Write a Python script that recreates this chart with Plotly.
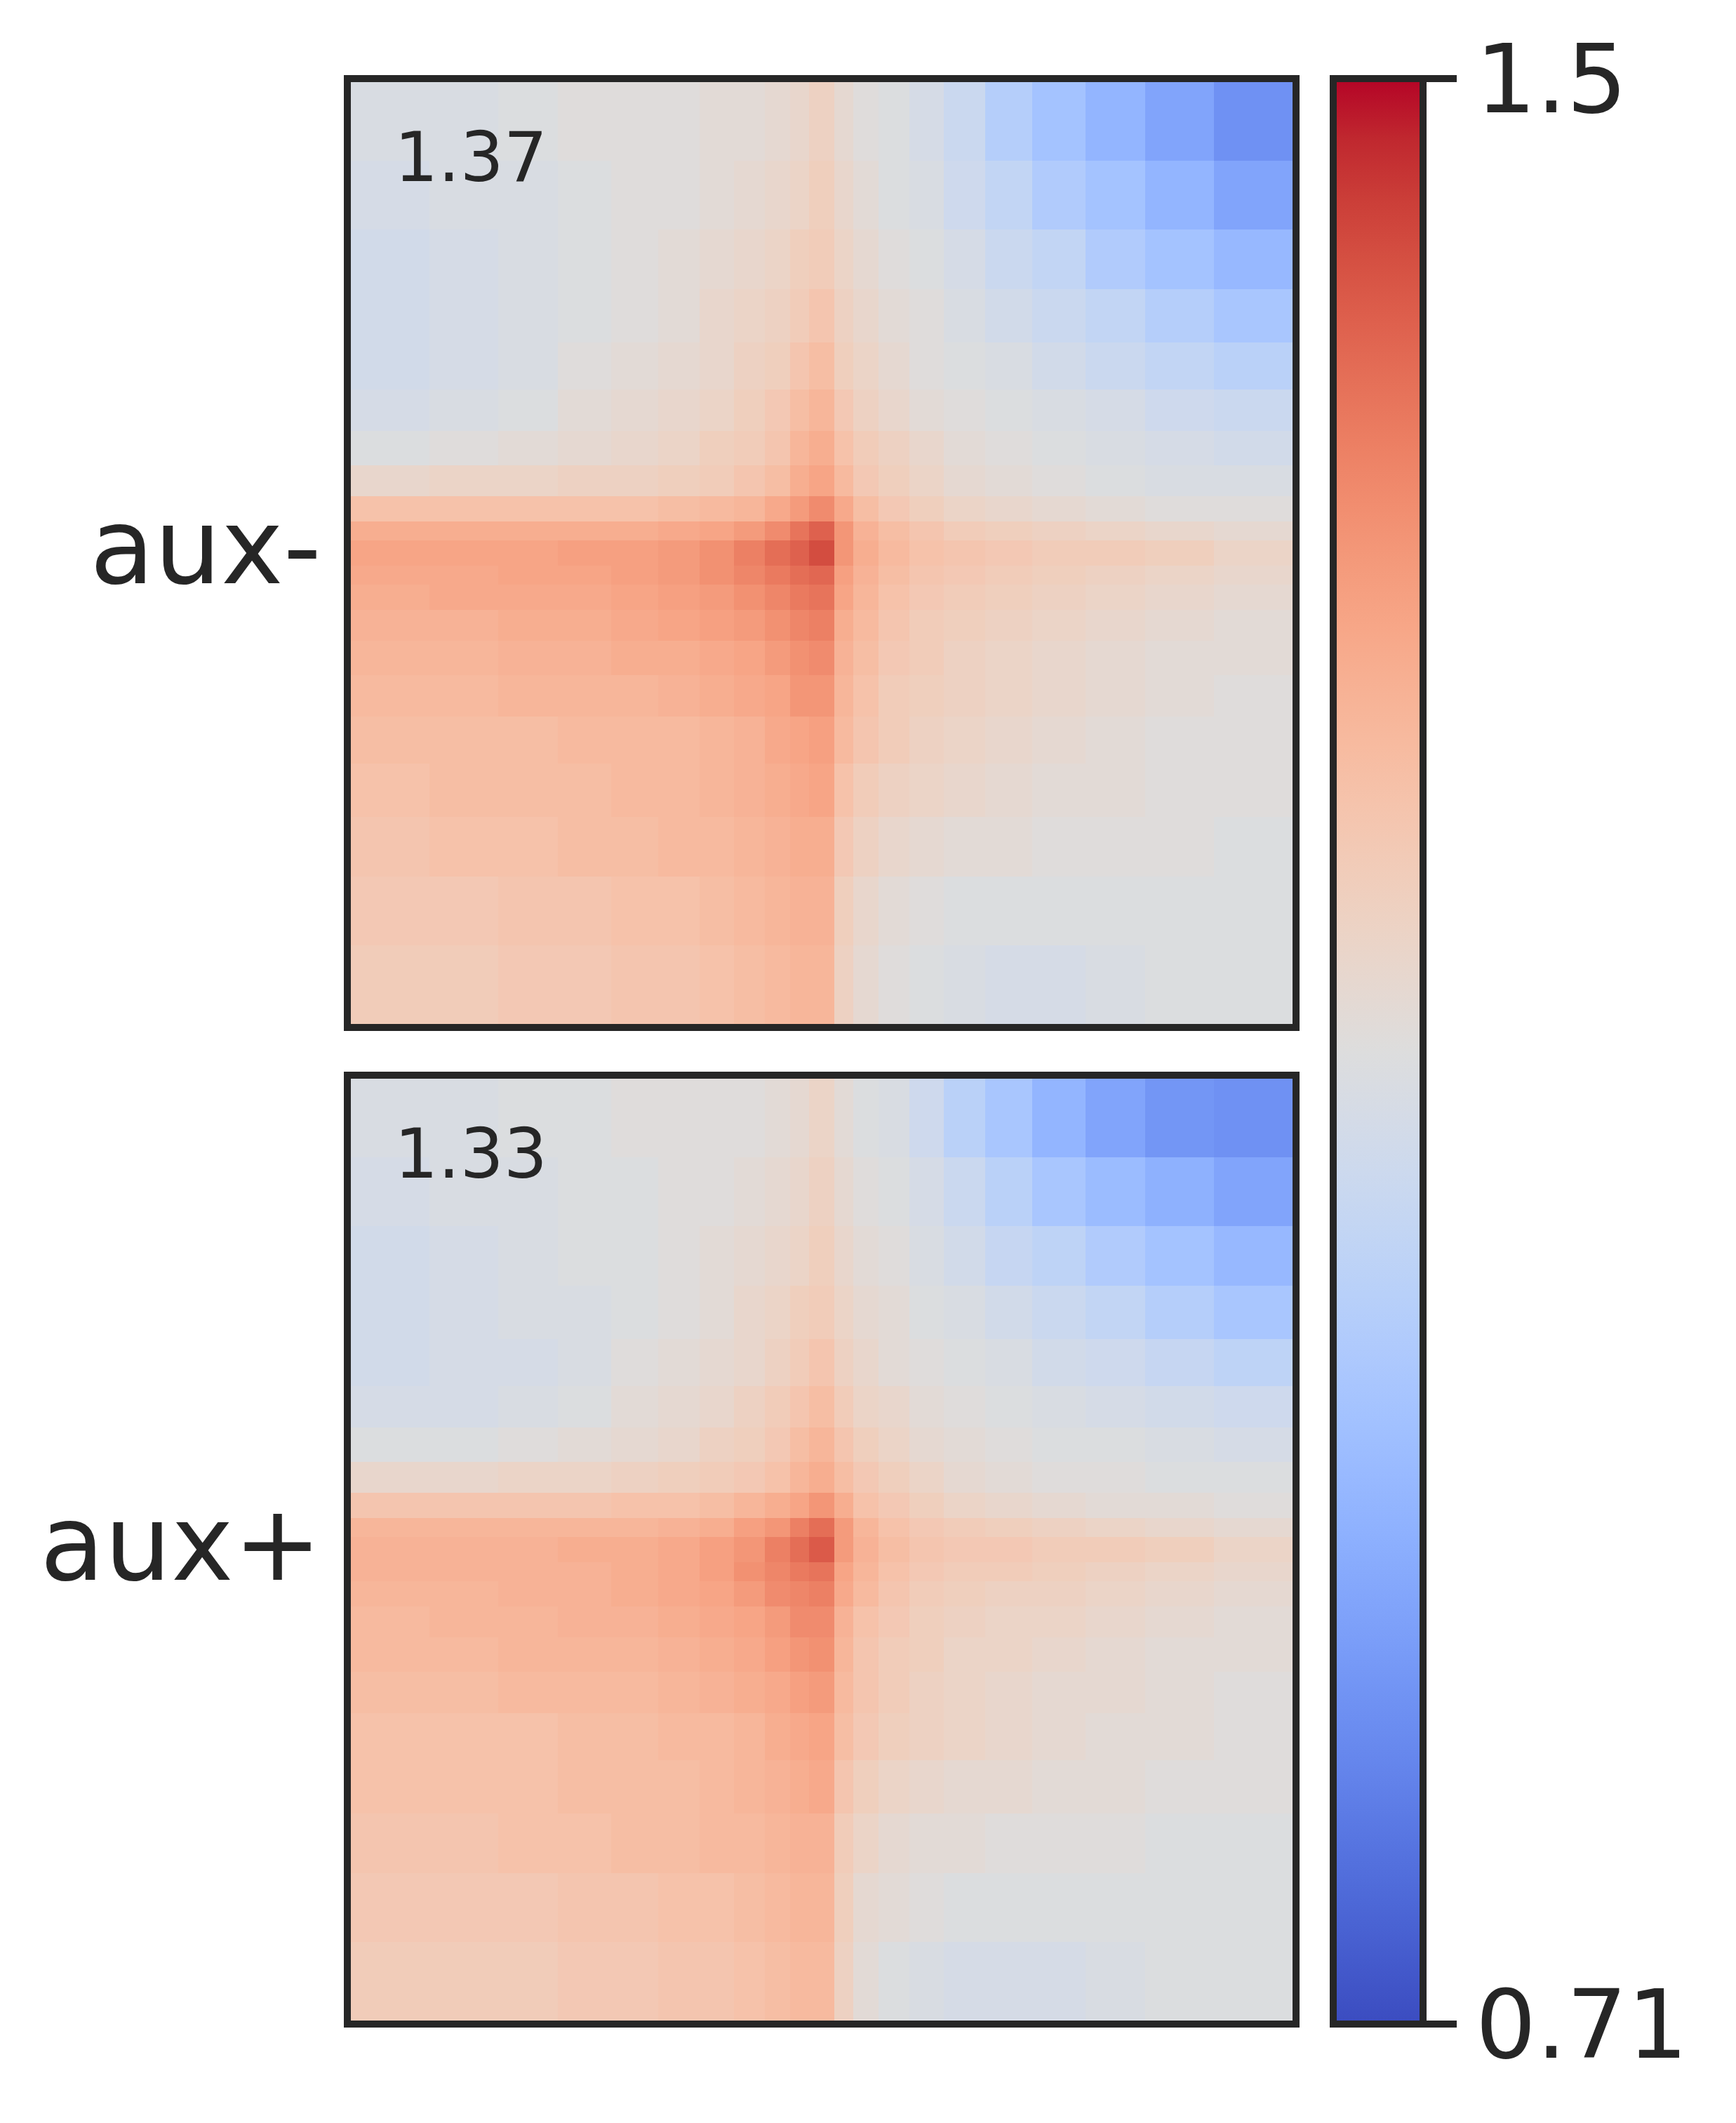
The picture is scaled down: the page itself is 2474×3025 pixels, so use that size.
import plotly.graph_objects as go

W, H = 2474, 3025
INK = "#262626"
FONT = "DejaVu Sans"

row_labels = ["aux-", "aux+"]
corner_scores = ["1.37", "1.33"]
color_min, color_max = 0.71, 1.5
color_ticks = [0.71, 1.5]
color_tick_text = ["0.71", "1.5"]

# Bin edges of the coarse reading grid, offset from the centre of the pile-up
bin_edges = [-150, -125, -103, -84, -67, -52, -39, -28, -18, -10, -4,
             4, 10, 18, 28, 39, 52, 67, 84, 103, 125, 150]

# Values read by eye per bin, top row first (colour-bar position)
aux_minus = [
    [1.09,1.09,1.10,1.11,1.11,1.11,1.12,1.12,1.13,1.14,1.16,1.13,1.11,1.10,1.08,1.05,1.00,0.96,0.92,0.88,0.84],
    [1.08,1.09,1.09,1.10,1.11,1.11,1.12,1.13,1.14,1.15,1.17,1.14,1.12,1.10,1.09,1.06,1.03,0.99,0.96,0.92,0.88],
    [1.07,1.08,1.09,1.10,1.11,1.12,1.13,1.14,1.15,1.17,1.18,1.15,1.13,1.11,1.10,1.08,1.05,1.03,0.99,0.96,0.93],
    [1.07,1.08,1.09,1.10,1.11,1.12,1.14,1.15,1.16,1.18,1.20,1.16,1.14,1.12,1.11,1.09,1.07,1.05,1.03,1.00,0.97],
    [1.07,1.08,1.09,1.11,1.12,1.13,1.14,1.16,1.17,1.20,1.22,1.17,1.15,1.13,1.11,1.10,1.09,1.07,1.05,1.03,1.01],
    [1.08,1.09,1.10,1.12,1.13,1.14,1.15,1.17,1.19,1.22,1.24,1.19,1.16,1.14,1.12,1.11,1.10,1.09,1.08,1.06,1.05],
    [1.10,1.11,1.12,1.13,1.14,1.15,1.17,1.18,1.20,1.24,1.26,1.21,1.18,1.16,1.14,1.12,1.11,1.10,1.09,1.08,1.07],
    [1.14,1.15,1.15,1.16,1.16,1.17,1.18,1.20,1.22,1.26,1.28,1.23,1.19,1.17,1.15,1.13,1.12,1.11,1.10,1.09,1.09],
    [1.21,1.21,1.21,1.21,1.21,1.22,1.23,1.24,1.27,1.30,1.33,1.27,1.22,1.19,1.17,1.15,1.14,1.13,1.12,1.11,1.11],
    [1.26,1.26,1.26,1.26,1.26,1.27,1.28,1.30,1.33,1.37,1.40,1.31,1.25,1.22,1.20,1.18,1.17,1.16,1.15,1.14,1.13],
    [1.28,1.28,1.28,1.29,1.29,1.30,1.32,1.35,1.38,1.40,1.43,1.31,1.26,1.23,1.21,1.20,1.19,1.18,1.18,1.17,1.15],
    [1.27,1.27,1.28,1.28,1.29,1.30,1.32,1.34,1.36,1.38,1.39,1.29,1.25,1.22,1.20,1.19,1.18,1.17,1.16,1.15,1.14],
    [1.26,1.27,1.27,1.27,1.28,1.29,1.30,1.32,1.34,1.36,1.37,1.28,1.24,1.21,1.19,1.18,1.17,1.16,1.15,1.14,1.13],
    [1.25,1.25,1.26,1.26,1.27,1.28,1.29,1.30,1.32,1.34,1.35,1.26,1.23,1.20,1.18,1.17,1.16,1.15,1.14,1.13,1.12],
    [1.24,1.24,1.25,1.25,1.26,1.26,1.27,1.28,1.30,1.32,1.33,1.25,1.22,1.19,1.18,1.16,1.15,1.14,1.13,1.12,1.12],
    [1.23,1.23,1.24,1.24,1.24,1.25,1.26,1.27,1.28,1.31,1.31,1.24,1.21,1.18,1.17,1.16,1.15,1.14,1.13,1.12,1.11],
    [1.22,1.22,1.22,1.23,1.23,1.23,1.24,1.25,1.27,1.28,1.29,1.23,1.20,1.18,1.16,1.15,1.14,1.13,1.12,1.11,1.11],
    [1.21,1.22,1.22,1.22,1.23,1.23,1.24,1.25,1.26,1.27,1.28,1.21,1.18,1.16,1.15,1.14,1.13,1.12,1.12,1.11,1.11],
    [1.20,1.21,1.21,1.22,1.22,1.23,1.23,1.24,1.25,1.26,1.26,1.19,1.16,1.14,1.13,1.12,1.12,1.11,1.11,1.11,1.10],
    [1.19,1.19,1.20,1.20,1.21,1.21,1.22,1.23,1.24,1.25,1.25,1.17,1.14,1.12,1.11,1.10,1.10,1.10,1.10,1.10,1.10],
    [1.18,1.18,1.19,1.19,1.20,1.20,1.21,1.22,1.23,1.24,1.24,1.16,1.13,1.11,1.10,1.09,1.08,1.08,1.09,1.10,1.10],
]
aux_plus = [
    [1.09,1.09,1.10,1.10,1.11,1.11,1.11,1.11,1.12,1.13,1.15,1.12,1.10,1.09,1.06,1.01,0.97,0.92,0.88,0.85,0.84],
    [1.08,1.09,1.09,1.10,1.10,1.11,1.11,1.12,1.13,1.14,1.16,1.13,1.11,1.10,1.08,1.05,1.01,0.97,0.94,0.91,0.88],
    [1.07,1.08,1.09,1.10,1.10,1.11,1.12,1.13,1.14,1.15,1.17,1.14,1.12,1.11,1.09,1.07,1.04,1.02,0.99,0.96,0.93],
    [1.07,1.08,1.09,1.09,1.10,1.11,1.12,1.14,1.15,1.17,1.18,1.15,1.13,1.12,1.10,1.09,1.07,1.05,1.03,1.00,0.97],
    [1.07,1.08,1.08,1.09,1.11,1.12,1.13,1.14,1.16,1.18,1.20,1.16,1.14,1.12,1.11,1.10,1.09,1.07,1.06,1.04,1.02],
    [1.08,1.08,1.09,1.10,1.12,1.13,1.14,1.16,1.18,1.20,1.22,1.18,1.15,1.14,1.12,1.11,1.10,1.09,1.08,1.07,1.06],
    [1.10,1.10,1.11,1.12,1.13,1.14,1.16,1.17,1.19,1.22,1.24,1.20,1.17,1.15,1.13,1.12,1.11,1.10,1.10,1.09,1.08],
    [1.14,1.14,1.15,1.15,1.16,1.17,1.18,1.19,1.21,1.24,1.26,1.22,1.19,1.17,1.15,1.13,1.12,1.11,1.11,1.10,1.10],
    [1.20,1.20,1.20,1.20,1.21,1.21,1.22,1.24,1.26,1.28,1.31,1.26,1.21,1.19,1.17,1.15,1.14,1.13,1.12,1.12,1.11],
    [1.24,1.24,1.24,1.24,1.24,1.25,1.26,1.29,1.31,1.35,1.38,1.30,1.24,1.21,1.19,1.18,1.17,1.16,1.15,1.14,1.13],
    [1.25,1.25,1.25,1.26,1.26,1.27,1.29,1.31,1.35,1.38,1.41,1.30,1.25,1.22,1.20,1.19,1.19,1.18,1.18,1.17,1.15],
    [1.25,1.25,1.25,1.25,1.26,1.27,1.29,1.32,1.34,1.36,1.37,1.28,1.24,1.21,1.19,1.18,1.18,1.17,1.16,1.15,1.14],
    [1.24,1.24,1.25,1.25,1.26,1.27,1.28,1.30,1.33,1.34,1.35,1.27,1.23,1.20,1.18,1.17,1.16,1.16,1.15,1.14,1.13],
    [1.23,1.24,1.24,1.25,1.25,1.26,1.27,1.28,1.30,1.33,1.33,1.25,1.21,1.19,1.17,1.16,1.15,1.15,1.14,1.13,1.12],
    [1.23,1.23,1.24,1.24,1.24,1.25,1.26,1.27,1.29,1.31,1.32,1.24,1.20,1.18,1.17,1.15,1.15,1.14,1.13,1.12,1.12],
    [1.22,1.22,1.23,1.23,1.23,1.24,1.25,1.26,1.27,1.29,1.30,1.23,1.20,1.18,1.16,1.15,1.14,1.13,1.13,1.12,1.11],
    [1.21,1.21,1.21,1.22,1.22,1.23,1.23,1.24,1.26,1.27,1.28,1.22,1.19,1.17,1.16,1.15,1.14,1.13,1.12,1.12,1.11],
    [1.21,1.21,1.21,1.22,1.22,1.22,1.23,1.24,1.25,1.26,1.27,1.20,1.17,1.15,1.14,1.13,1.13,1.12,1.12,1.11,1.11],
    [1.20,1.20,1.21,1.21,1.22,1.22,1.23,1.23,1.24,1.25,1.25,1.18,1.15,1.13,1.12,1.12,1.11,1.11,1.11,1.10,1.10],
    [1.19,1.19,1.19,1.20,1.20,1.21,1.21,1.22,1.23,1.24,1.24,1.17,1.13,1.12,1.11,1.10,1.10,1.10,1.10,1.10,1.10],
    [1.18,1.18,1.18,1.19,1.19,1.20,1.20,1.21,1.22,1.23,1.23,1.16,1.12,1.10,1.09,1.08,1.08,1.08,1.09,1.10,1.10],
]

# matplotlib "coolwarm" anchor colours
cw_r = [0.2298057,0.26623388,0.30386891,0.342804478,0.38301334,0.424369608,0.46666708,0.509635204,0.552953156,0.596262162,0.639176211,0.681291281,0.722193294,0.761464949,0.798691636,0.833466556,0.865395197,0.897787179,0.924127593,0.944468518,0.958852946,0.96732803,0.969954137,0.966811177,0.958003065,0.943660866,0.923944917,0.89904617,0.869186849,0.834620542,0.795631745,0.752534934,0.705673158]
cw_g = [0.298717966,0.353094838,0.406535296,0.458757618,0.50941904,0.558148092,0.604562568,0.648280772,0.688929332,0.726149107,0.759599947,0.788964712,0.813952739,0.834302879,0.849786142,0.860207984,0.86541021,0.848937047,0.827384882,0.800927443,0.769767752,0.734132809,0.694266682,0.650421156,0.602842431,0.551750968,0.49730856,0.439559467,0.378313092,0.312874446,0.24128379,0.157246067,0.01555616]
cw_b = [0.753683153,0.801466763,0.84495867,0.883725899,0.917387822,0.945619588,0.968154911,0.98478814,0.995375608,0.999836203,0.998151185,0.990363227,0.976574709,0.956945269,0.931688648,0.901068838,0.865395561,0.820880546,0.774508472,0.726736146,0.678007945,0.628751763,0.579375448,0.530263762,0.481775914,0.434243684,0.387970225,0.343229596,0.300267182,0.259301199,0.220525627,0.184115123,0.150232812]
coolwarm = [[i / 32, f"rgb({r*255:.0f},{g*255:.0f},{b*255:.0f})"]
            for i, (r, g, b) in enumerate(zip(cw_r, cw_g, cw_b))]

fig = go.Figure()
colorbar = dict(
    x=1900 / W, xanchor="left", xpad=0, thickness=128, thicknessmode="pixels",
    y=1 - 112 / H, yanchor="top", ypad=0, len=2772, lenmode="pixels",
    outlinecolor=INK, outlinewidth=10,
    tickmode="array", tickvals=color_ticks, ticktext=color_tick_text,
    ticks="outside", ticklen=43, tickwidth=10, tickcolor=INK,
    tickfont=dict(family=FONT, size=136, color=INK),
)
fig.add_trace(go.Heatmap(z=aux_minus, x=bin_edges, y=bin_edges, zmin=color_min, zmax=color_max,
                         colorscale=coolwarm, colorbar=colorbar, xaxis="x", yaxis="y", hoverinfo="skip"))
fig.add_trace(go.Heatmap(z=aux_plus, x=bin_edges, y=bin_edges, zmin=color_min, zmax=color_max,
                         colorscale=coolwarm, showscale=False, xaxis="x2", yaxis="y2", hoverinfo="skip"))

axis = dict(showline=True, mirror=True, linewidth=10, linecolor=INK, showticklabels=False,
            ticks="", showgrid=False, zeroline=False)
x_dom = [500 / W, 1842 / W]
fig.update_layout(
    width=W, height=H, margin=dict(l=0, r=0, t=0, b=0), paper_bgcolor="white", plot_bgcolor="white",
    xaxis=dict(axis, domain=x_dom, range=[-150, 150], anchor="y"),
    yaxis=dict(axis, domain=[1 - 1459 / H, 1 - 117 / H], range=[150, -150], anchor="x"),
    xaxis2=dict(axis, domain=x_dom, range=[-150, 150], anchor="y2"),
    yaxis2=dict(axis, domain=[1 - 2879 / H, 1 - 1537 / H], range=[150, -150], anchor="x2"),
)

for label, score, y_mid, y_score in zip(row_labels, corner_scores, [779, 2199], [224, 1644]):
    fig.add_annotation(text=label, xref="paper", yref="paper", x=460 / W, y=1 - y_mid / H,
                       xanchor="right", yanchor="middle", showarrow=False,
                       font=dict(family=FONT, size=150, color=INK))
    fig.add_annotation(text=score, xref="paper", yref="paper", x=560 / W, y=1 - y_score / H,
                       xanchor="left", yanchor="middle", showarrow=False,
                       font=dict(family=FONT, size=98, color=INK))

fig.write_html("out.html", post_script="document.body.style.margin='0';",
               config={"displayModeBar": False})
